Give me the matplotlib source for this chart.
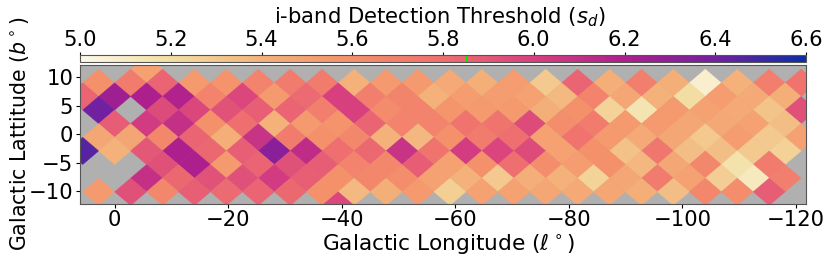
import numpy as np
import matplotlib
matplotlib.use('Agg')
import matplotlib.pyplot as plt
from matplotlib.collections import PolyCollection
from matplotlib.colors import LinearSegmentedColormap, Normalize
from matplotlib.cm import ScalarMappable

n = np.nan

# threshold per sky cell, row by row from the top. rows alternate between two longitude offsets
row_lats = [11.5, 9.06, 6.66, 4.26, 1.86, -0.54, -2.94, -5.34, -7.74, -10.14, -12.54]
lon_even = 5.625  # longitude of first cell in rows 0, 2, 4...
lon_odd = 2.8125  # same for rows 1, 3, 5...
lon_step = -5.625

row0 = [n, n, 5.5]
row1 = [5.6, 5.72, 5.85, 5.55, 5.58, 5.68, 5.72, 5.72, 5.4, 5.55, 5.55, 5.45, 5.42, 5.52, 5.3,
        5.85, 5.42, 5.7, 5.42, 5.08, 5.4, 5.7, 5.78]
row2 = [5.85, 6.25, 6.2, 6.18, 5.68, 5.97, 5.55, 5.82, 6.0, 5.7, 5.67, 5.4, 5.52, 5.53, 5.5,
        5.37, 5.68, 5.47, 5.4, 5.2, 5.53, 5.45, 5.42]
row3 = [6.4, n, 5.95, 5.97, 5.92, 5.87, 5.85, 5.7, 6.0, 5.63, 5.68, 5.57, 5.55, 5.55, 5.42,
        5.6, 5.25, 5.16, 5.55, 5.5, 5.45, 5.32, 5.93]
row4 = [n, 5.88, 6.03, 6.1, 5.6, 5.8, 5.4, 5.55, 5.58, 5.85, 5.68, 5.68, 5.78, 5.77, 5.95,
        5.62, 5.72, 5.55, 5.55, 5.47, 5.46, 5.5, 5.35]
row5 = [5.47, 5.48, 5.65, 5.85, 5.42, 6.08, 5.72, 5.6, 5.65, 5.4, 5.38, 5.6, 5.72, 5.8, 5.5,
        5.78, 5.55, 5.45, 5.47, 5.3, 5.52, 5.3, 5.5]
row6 = [6.45, 5.4, 5.9, 6.2, 5.83, 5.87, 6.32, 6.12, 5.8, 5.83, 6.08, 5.78, 6.02, 5.98, 5.95,
        5.5, 5.6, 5.33, 5.75, 5.35, 5.35, 5.3, 5.26]
row7 = [n, n, 5.93, 6.2, 5.55, 5.85, 5.93, 5.88, 5.68, 5.65, 5.88, 5.5, 5.6, 5.8, 5.62,
        5.52, 5.6, 5.38, 5.47, 5.65, 5.17, 5.72, n]
row8 = [n, n, 6.1, 5.83, 5.92, 5.93, 6.03, 5.87, 5.6, 5.65, 5.62, 5.5, 5.4, 5.3, 5.42,
        5.4, 5.25, 5.47, 5.73, 5.5, 5.28, 5.12, 5.7]
row9 = [5.55, 5.93, 5.65, 5.87, 5.82, 5.85, 5.83, 5.6, 5.37, 5.42, 5.55, 5.27, 5.5, 5.5, 5.47,
        5.45, 5.47, 5.42, 5.35, 5.65, 5.62, 5.88, n]
row10 = [n, n, n, n, n, n, n, n, 5.97]
rows = [row0, row1, row2, row3, row4, row5, row6, row7, row8, row9, row10]

cbar_ticks = [5.0, 5.2, 5.4, 5.6, 5.8, 6.0, 6.2, 6.4, 6.6]
lon_ticks = [0, -20, -40, -60, -80, -100, -120]
lat_ticks = [-10, -5, 0, 5, 10]
threshold = 5.85

cmap_cols = ['#fdf9e8', '#f2dea2', '#f4b27a', '#f5906a', '#ef6f6f', '#d8407f', '#ae1f8d', '#7420a0', '#0a2fa5']

W, H = 831, 261
fig = plt.figure(figsize=(W / 100, H / 100), dpi=100)
ax = fig.add_axes([80 / W, 1 - 203.5 / H, 726 / W, 138.5 / H])
cax = fig.add_axes([80 / W, 1 - 62 / H, 726 / W, 7 / H])

cm = LinearSegmentedColormap.from_list('thresh', cmap_cols)  # stops are evenly spaced, one per colorbar tick
norm = Normalize(5.0, 6.6)

half_w = 2.8125
half_h = 2.4
polys = []
vals = []
for k, (lat, row) in enumerate(zip(row_lats, rows)):
    start = lon_even if k % 2 == 0 else lon_odd
    for i, v in enumerate(row):
        if np.isnan(v):
            continue
        lon = start + i * lon_step
        polys.append([(lon - half_w, lat), (lon, lat + half_h), (lon + half_w, lat), (lon, lat - half_h)])
        vals.append(v)

pc = PolyCollection(polys, array=np.array(vals), cmap=cm, norm=norm, edgecolors='face', linewidths=0.3)
ax.add_collection(pc)
ax.set_facecolor('#b0b0b0')
ax.set_xlim(6.1, -121.8)
ax.set_ylim(-12.2, 12.2)
ax.set_xticks(lon_ticks)
ax.set_yticks(lat_ticks)
ax.tick_params(labelsize=15.2, length=3, width=0.8, pad=1.8)
ax.set_xlabel(r'Galactic Longitude ($\ell^\circ$)', fontsize=15.6, labelpad=0.8, x=0.508)
ax.set_ylabel(r'Galactic Lattitude ($b^\circ$)', fontsize=14.8, labelpad=-2)
for s in ax.spines.values():
    s.set_color('#555555')

cb = fig.colorbar(ScalarMappable(norm=norm, cmap=cm), cax=cax, orientation='horizontal')
cb.set_ticks(cbar_ticks)
cax.xaxis.set_ticks_position('top')
cax.xaxis.set_label_position('top')
cax.tick_params(labelsize=15.2, length=2, width=0.8, pad=1.5)
cb.set_label(r'i-band Detection Threshold ($s_d$)', fontsize=15.2, labelpad=5, x=0.496)
cax.plot([threshold, threshold], [0, 1], color='#00ee00', lw=2, transform=cax.get_xaxis_transform())
cb.outline.set_edgecolor('#555555')

fig.savefig('out.png', dpi=100)
